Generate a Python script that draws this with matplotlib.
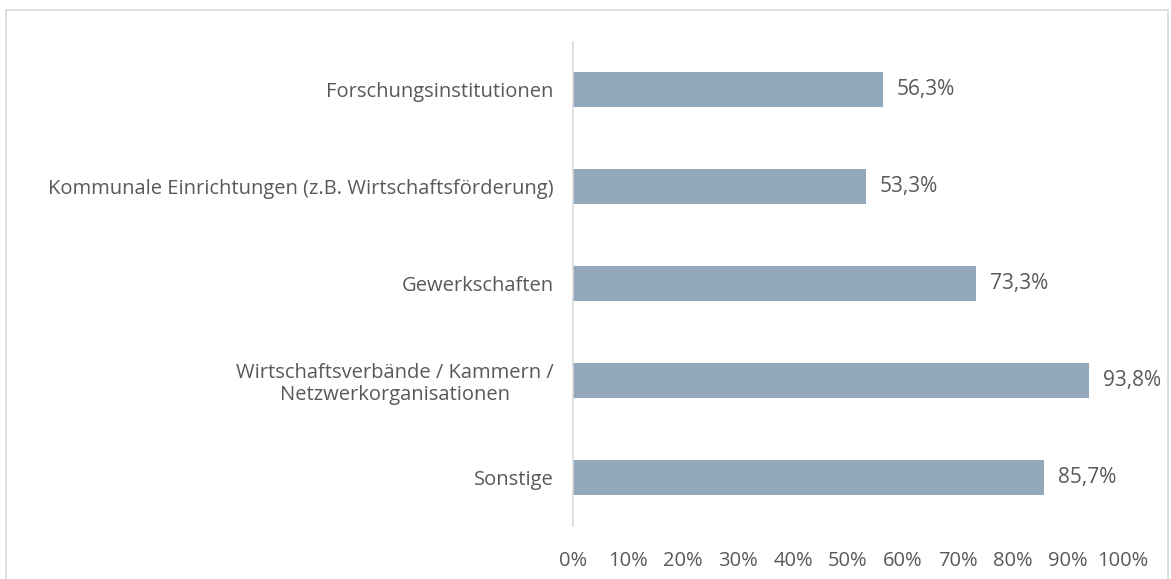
import matplotlib
matplotlib.use("Agg")
import matplotlib.pyplot as plt
import matplotlib.ticker as mticker
from matplotlib.patches import Rectangle

categories = [
    "Forschungsinstitutionen",
    "Kommunale Einrichtungen (z.B. Wirtschaftsförderung)",
    "Gewerkschaften",
    "Wirtschaftsverbände / Kammern /\nNetzwerkorganisationen",
    "Sonstige",
]
values = [56.3, 53.3, 73.3, 93.8, 85.7]
xticks = [0, 10, 20, 30, 40, 50, 60, 70, 80, 90, 100]

BAR = "#94a8bb"; TEXT = "#595959"; LINE = "#d9d9d9"

plt.rcParams["font.family"] = ["Open Sans", "DejaVu Sans"]

fig = plt.figure(figsize=(11.71, 5.79), dpi=100)
ax = fig.add_axes([0.4893, 0.0924, 0.959 - 0.4893, 0.9283 - 0.0924])

ypos = list(range(len(categories)))
ax.barh(ypos, values, height=0.36, color=BAR)
for y, v in zip(ypos, values):
    ax.text(v + 2.5, y, f"{v:.1f}%".replace(".", ","), va="center", ha="left",
            fontsize=15, color=TEXT)

ax.set_ylim(len(categories) - 0.5, -0.5)
ax.set_xlim(0, 100)
ax.set_yticks(ypos)
ax.set_yticklabels(categories, color=TEXT, linespacing=1.15)
ax.set_xticks(xticks)
ax.xaxis.set_major_formatter(mticker.FuncFormatter(lambda x, _: f"{x:.0f}%"))
ax.tick_params(axis="both", length=0, colors=TEXT)
ax.tick_params(axis="x", pad=18, labelsize=14.5)
ax.tick_params(axis="y", pad=14, labelsize=14.5)
for lb in ax.get_yticklabels():
    lb.set_multialignment("center")
for s in ["top", "right", "bottom"]:
    ax.spines[s].set_visible(False)
ax.spines["left"].set_color(LINE)
ax.spines["left"].set_linewidth(1.2)

fig.patches.append(Rectangle((6 / 1171, -0.01), (1168 - 6) / 1171, 1 - 10 / 579 + 0.01,
                             transform=fig.transFigure, fill=False,
                             edgecolor=LINE, linewidth=1.2))

fig.savefig("out.png", dpi=100, facecolor="white")
